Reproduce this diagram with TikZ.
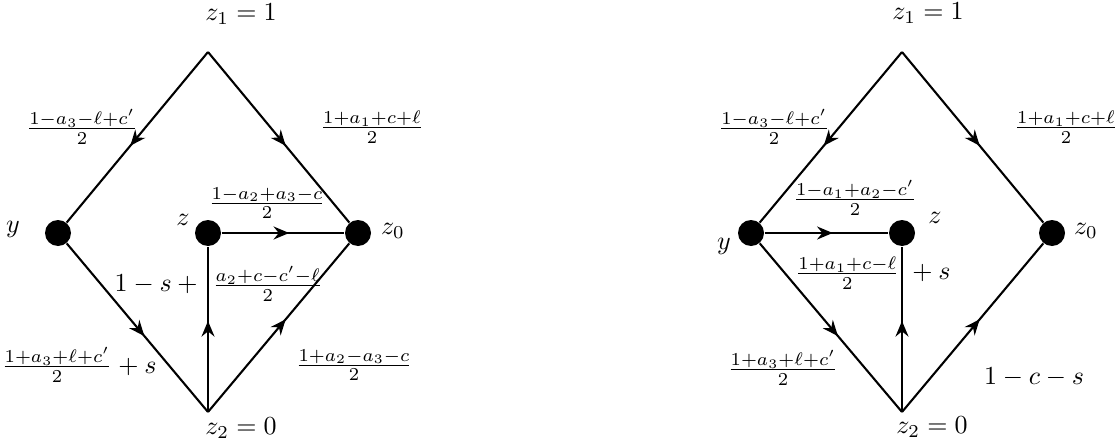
\documentclass[tikz,border=0pt]{standalone}
\usetikzlibrary{arrows.meta,decorations.markings}
\begin{document}
\begin{tikzpicture}[x=0.3846pt,y=-0.3846pt,
  dot/.style={circle,fill=black,draw=none,minimum size=10pt,inner sep=0pt},
  vtx/.style={inner sep=0pt,minimum size=0pt},
  edge/.style={line width=0.8pt,postaction={decorate},
    decoration={markings,mark=at position 0.55 with {\arrow{Stealth[length=6pt,width=5pt,inset=2pt]}}}},
  lbl/.style={inner sep=0pt}]
\useasboundingbox (0,0) rectangle (1116,446);
% ---------- left diagram ----------
\node[vtx] (Lt) at (208,52) {};
\node[vtx] (Lb) at (208,412) {};
\node[dot] (Ly) at (58,233) {};
\node[dot] (Lz) at (208,233) {};
\node[dot] (Lz0) at (358,233) {};
\draw[edge] (Lt.center) -- (Ly);
\draw[edge] (Lt.center) -- (Lz0);
\draw[edge] (Lz) -- (Lz0);
\draw[edge] (Ly) -- (Lb.center);
\draw[edge] (Lb.center) -- (Lz);
\draw[edge] (Lb.center) -- (Lz0);
\node[lbl] (Lz1l) at (241,14) {$z_1=1$};
\node[lbl] (Lz2l) at (241,428) {$z_2=0$};
\node[lbl] (Lyl) at (13,229) {$y$};
\node[lbl] (Lzl) at (183,220) {$z$};
\node[lbl] (Lz0l) at (393,231) {$z_0$};
\node[lbl] (Le1) at (82,127) {$\frac{1-a_3-\ell+c'}{2}$};
\node[lbl] (Le2) at (372,127) {$\frac{1+a_1+c+\ell}{2}$};
\node[lbl] (Le3) at (267,203) {$\frac{1-a_2+a_3-c}{2}$};
\node[lbl,anchor=east] (Le4a) at (204,284) {$1-s+{}$};
\node[lbl,anchor=west] (Le4b) at (212,284) {$\frac{a_2+c-c'-\ell}{2}$};
\node[lbl] (Le5) at (79,365) {$\frac{1+a_3+\ell+c'}{2}+s$};
\node[lbl] (Le6) at (354,365) {$\frac{1+a_2-a_3-c}{2}$};
% ---------- right diagram ----------
\node[vtx] (Rt) at (902,52) {};
\node[vtx] (Rb) at (902,412) {};
\node[dot] (Ry) at (751,233) {};
\node[dot] (Rz) at (902,233) {};
\node[dot] (Rz0) at (1052,233) {};
\draw[edge] (Rt.center) -- (Ry);
\draw[edge] (Rt.center) -- (Rz0);
\draw[edge] (Ry) -- (Rz);
\draw[edge] (Ry) -- (Rb.center);
\draw[edge] (Rb.center) -- (Rz);
\draw[edge] (Rb.center) -- (Rz0);
\node[lbl] (Rz1l) at (928,13) {$z_1=1$};
\node[lbl] (Rz2l) at (932,427) {$z_2=0$};
\node[lbl] (Ryl) at (724,246) {$y$};
\node[lbl] (Rzl) at (935,218) {$z$};
\node[lbl] (Rz0l) at (1086,231) {$z_0$};
\node[lbl] (Re1) at (774,127) {$\frac{1-a_3-\ell+c'}{2}$};
\node[lbl] (Re2) at (1066,127) {$\frac{1+a_1+c+\ell}{2}$};
\node[lbl] (Re3) at (855,198) {$\frac{1-a_1+a_2-c'}{2}$};
\node[lbl,anchor=east] (Re4a) at (900,273) {$\frac{1+a_1+c-\ell}{2}$};
\node[lbl,anchor=west] (Re4b) at (906,273) {${}+s$};
\node[lbl] (Re5) at (783,368) {$\frac{1+a_3+\ell+c'}{2}$};
\node[lbl] (Re6) at (1034,377) {$1-c-s$};
\end{tikzpicture}
\end{document}
